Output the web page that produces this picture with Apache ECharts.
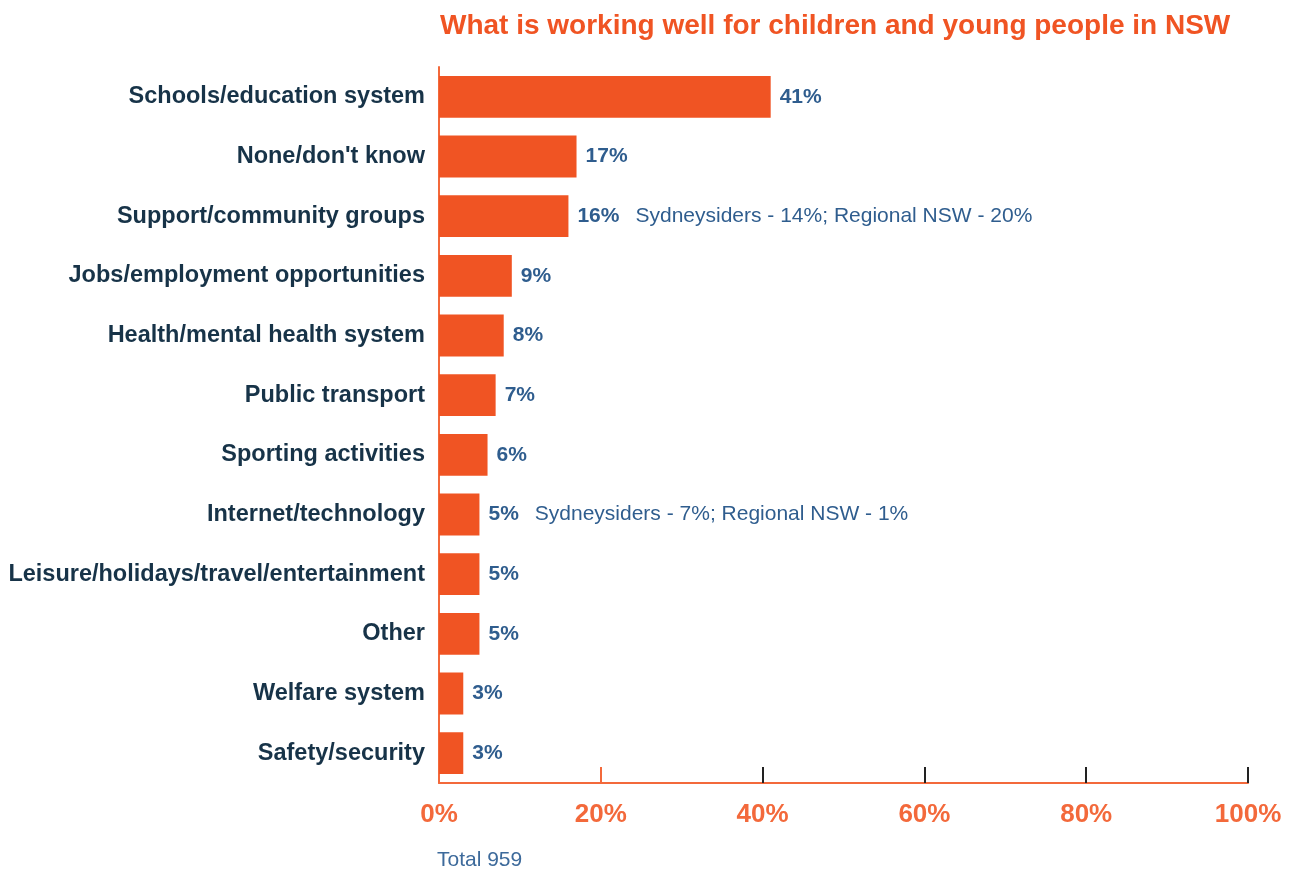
<!DOCTYPE html>
<html><head><meta charset="utf-8">
<script src="https://cdn.jsdelivr.net/npm/echarts@6/dist/echarts.min.js"></script>
<style>html,body{margin:0;padding:0;background:#fff}#c{width:1293px;height:870px}</style>
</head><body><div id="c"></div>
<script>
const categories = ["Schools/education system","None/don't know","Support/community groups","Jobs/employment opportunities","Health/mental health system","Public transport","Sporting activities","Internet/technology","Leisure/holidays/travel/entertainment","Other","Welfare system","Safety/security"];
const values = [41,17,16,9,8,7,6,5,5,5,3,3];
const notes = ["","","Sydneysiders - 14%; Regional NSW - 20%","","","","","Sydneysiders - 7%; Regional NSW - 1%","","","",""];
const tickValues = [0,20,40,60,80,100];
const titleText = "What is working well for children and young people in NSW";
const footText = "Total 959";

const ORANGE = '#f05423';
const AXIS = '#f3693b';
const NAVY = '#2f5d8e';
const DARK = '#173348';
const FONT = '"Liberation Sans", Arial, sans-serif';

const chart = echarts.init(document.getElementById('c'), null, {renderer:'canvas'});
chart.setOption({
  animation:false,
  textStyle:{fontFamily:FONT},
  title:{text:titleText,left:435,top:7,textStyle:{color:ORANGE,fontSize:28,fontWeight:'bold',fontFamily:FONT}},
  graphic:[{type:'text',left:437,top:850,style:{text:footText,fill:'#3d6a9b',font:'21px '+FONT}}],
  grid:{left:439,right:45,top:67,bottom:87,containLabel:false},
  xAxis:[{
    type:'value',min:0,max:100,interval:20,
    axisLine:{show:true,lineStyle:{color:AXIS,width:2}},
    axisTick:{show:true,inside:true,length:16,lineStyle:{color:'#222',width:2},customValues:[40,60,80,100]},
    splitLine:{show:false},
    axisLabel:{customValues:tickValues,formatter:'{value}%',color:AXIS,fontSize:26,fontWeight:'bold',margin:19,fontFamily:FONT}
  },{
    type:'value',min:0,max:100,interval:20,position:'bottom',
    axisLine:{show:false},
    axisTick:{show:true,inside:true,length:16,lineStyle:{color:AXIS,width:2},customValues:[20]},
    splitLine:{show:false},axisLabel:{show:false}
  }],
  yAxis:{
    type:'category',data:categories,inverse:true,
    axisLine:{show:true,lineStyle:{color:AXIS,width:2}},
    axisTick:{show:false},
    axisLabel:{color:DARK,fontSize:23.5,fontWeight:'bold',margin:14,fontFamily:FONT}
  },
  series:[{
    type:'bar',data:values,xAxisIndex:0,barWidth:'70%',
    itemStyle:{color:ORANGE},
    label:{show:true,position:'right',distance:9,
      formatter:p=>'{v|'+values[p.dataIndex]+'%}'+(notes[p.dataIndex]?'{n|'+notes[p.dataIndex]+'}':''),
      rich:{v:{color:NAVY,fontSize:21,fontWeight:'bold',fontFamily:FONT},
            n:{color:NAVY,fontSize:21,fontFamily:FONT,padding:[0,0,0,16]}}}
  }]
});
</script></body></html>
